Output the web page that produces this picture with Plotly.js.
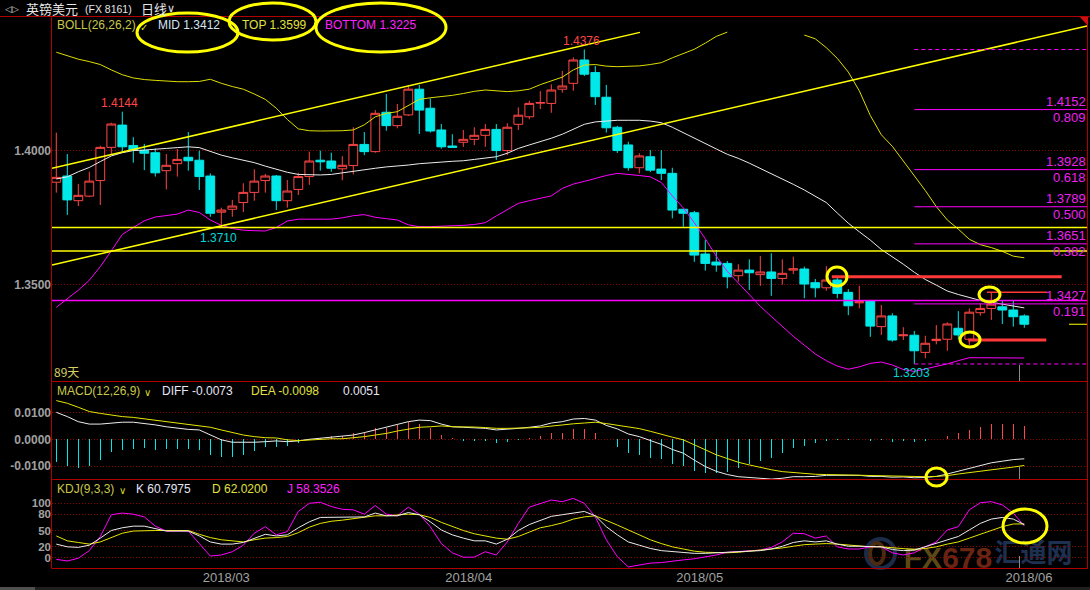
<!DOCTYPE html>
<html><head><meta charset="utf-8">
<script src="https://cdn.plot.ly/plotly-3.0.1.min.js"></script>
<style>html,body{margin:0;padding:0;background:#000;}#chart{width:1090px;height:590px;}</style>
</head><body><div id="chart"></div>
<script>
const dates = ['2018-02-08','2018-02-09','2018-02-12','2018-02-13','2018-02-14','2018-02-15','2018-02-16','2018-02-19','2018-02-20','2018-02-21','2018-02-22','2018-02-23','2018-02-26','2018-02-27','2018-02-28',
'2018-03-01','2018-03-02','2018-03-05','2018-03-06','2018-03-07','2018-03-08','2018-03-09','2018-03-12','2018-03-13','2018-03-14','2018-03-15','2018-03-16','2018-03-19','2018-03-20','2018-03-21','2018-03-22','2018-03-23','2018-03-26','2018-03-27','2018-03-28','2018-03-29','2018-03-30',
'2018-04-02','2018-04-03','2018-04-04','2018-04-05','2018-04-06','2018-04-09','2018-04-10','2018-04-11','2018-04-12','2018-04-13','2018-04-16','2018-04-17','2018-04-18','2018-04-19','2018-04-20','2018-04-23','2018-04-24','2018-04-25','2018-04-26','2018-04-27','2018-04-30',
'2018-05-01','2018-05-02','2018-05-03','2018-05-04','2018-05-07','2018-05-08','2018-05-09','2018-05-10','2018-05-11','2018-05-14','2018-05-15','2018-05-16','2018-05-17','2018-05-18','2018-05-21','2018-05-22','2018-05-23','2018-05-24','2018-05-25','2018-05-28','2018-05-29','2018-05-30','2018-05-31',
'2018-06-01','2018-06-04','2018-06-05','2018-06-06','2018-06-07','2018-06-08','2018-06-11','2018-06-12'];

const open = [1.3881,1.3904,1.3812,1.3829,1.3887,1.4011,1.4094,1.4018,1.3999,1.3991,1.3924,1.3950,1.3974,1.3963,1.3904,
1.3769,1.3780,1.3805,1.3843,1.3887,1.3904,1.3812,1.3854,1.3902,1.3963,1.3960,1.3931,1.3943,1.4022,1.3995,1.4142,1.4092,1.4132,1.4228,1.4157,1.4076,1.4016,
1.4030,1.4041,1.4056,1.4078,1.3999,1.4097,1.4125,1.4176,1.4175,1.4228,1.4250,1.4337,1.4290,1.4198,1.4086,1.4020,1.3935,1.3976,1.3930,1.3914,1.3780,
1.3767,1.3613,1.3583,1.3578,1.3532,1.3553,1.3536,1.3546,1.3522,1.3553,1.3557,1.3506,1.3487,1.3516,1.3470,1.3431,1.3438,1.3342,1.3382,1.3308,1.3310,1.3246,1.3290,
1.3295,1.3336,1.3295,1.3394,1.3410,1.3416,1.3404,1.3382];
const high = [1.4066,1.3986,1.3874,1.3920,1.4017,1.4103,1.4144,1.4049,1.4024,1.4007,1.3986,1.4005,1.4068,1.3999,1.3914,
1.3786,1.3815,1.3877,1.3929,1.3912,1.3908,1.3889,1.3916,1.3995,1.3999,1.3991,1.3978,1.4086,1.4068,1.4150,1.4210,1.4173,1.4244,1.4244,1.4194,1.4098,1.4060,
1.4076,1.4086,1.4098,1.4098,1.4101,1.4160,1.4185,1.4221,1.4246,1.4296,1.4347,1.4376,1.4315,1.4244,1.4091,1.4032,1.3989,1.4001,1.4001,1.3935,1.3782,
1.3774,1.3665,1.3628,1.3587,1.3575,1.3593,1.3606,1.3616,1.3593,1.3603,1.3566,1.3520,1.3568,1.3528,1.3482,1.3494,1.3440,1.3423,1.3392,1.3340,1.3326,1.3308,1.3348,
1.3358,1.3400,1.3410,1.3429,1.3470,1.3438,1.3438,1.3388];
const low = [1.3842,1.3759,1.3792,1.3825,1.3796,1.3986,1.3995,1.3954,1.3926,1.3902,1.3854,1.3902,1.3924,1.3852,1.3752,
1.3710,1.3752,1.3770,1.3812,1.3842,1.3777,1.3786,1.3833,1.3871,1.3924,1.3920,1.3888,1.3910,1.3982,1.3991,1.4073,1.4082,1.4128,1.4061,1.4066,1.4006,1.4011,
1.4013,1.4019,1.4013,1.3964,1.3982,1.4076,1.4116,1.4154,1.4140,1.4215,1.4222,1.4277,1.4169,1.4066,1.3990,1.3924,1.3914,1.3919,1.3889,1.3746,1.3715,
1.3584,1.3551,1.3547,1.3485,1.3510,1.3479,1.3494,1.3457,1.3499,1.3538,1.3448,1.3451,1.3476,1.3448,1.3385,1.3410,1.3304,1.3311,1.3286,1.3292,1.32028,1.3224,1.3276,
1.3252,1.3295,1.3274,1.3383,1.3367,1.3352,1.3342,1.3338];
const close = [1.3899,1.3815,1.3832,1.3885,1.4011,1.4098,1.4013,1.4001,1.3989,1.3916,1.3944,1.3966,1.3961,1.3902,1.3765,
1.3777,1.3792,1.3843,1.3885,1.3904,1.3812,1.3848,1.3902,1.3960,1.3957,1.3933,1.3944,1.4022,1.3995,1.4138,1.4092,1.4127,1.4228,1.4150,1.4072,1.4013,1.4011,
1.4041,1.4056,1.4078,1.3999,1.4086,1.4131,1.4175,1.4178,1.4225,1.4240,1.4337,1.4284,1.4200,1.4084,1.3999,1.3935,1.3979,1.3926,1.3914,1.3777,1.3765,
1.3609,1.3578,1.3572,1.3528,1.3553,1.3543,1.3546,1.3522,1.3541,1.3558,1.3501,1.3487,1.3516,1.3466,1.3420,1.3435,1.3344,1.3382,1.3292,1.3311,1.3252,1.3280,1.3295,
1.3352,1.3311,1.3396,1.3410,1.3426,1.3404,1.3379,1.3351];

const bollMid = [1.3893,1.3901,1.3920,1.3936,1.3958,1.3979,1.3991,1.3999,1.4001,1.4005,1.4007,1.4010,1.4013,1.4010,1.3997,
1.3982,1.3972,1.3964,1.3954,1.3941,1.3929,1.3918,1.3910,1.3908,1.3908,1.3910,1.3916,1.3923,1.3929,1.3933,1.3938,1.3941,1.3945,1.3950,1.3954,1.3956,1.3959,
1.3961,1.3966,1.3971,1.3976,1.3989,1.4007,1.4020,1.4032,1.4045,1.4060,1.4078,1.4097,1.4106,1.4110,1.4112,1.4112,1.4112,1.4109,1.4103,1.4086,1.4065,
1.4045,1.4024,1.4005,1.3985,1.3970,1.3952,1.3933,1.3914,1.3894,1.3873,1.3852,1.3830,1.3805,1.3766,1.3728,1.3696,1.3665,1.3630,1.3603,1.3575,1.3545,1.3518,1.3497,
1.3475,1.3462,1.3450,1.3440,1.3433,1.3426,1.3418,1.3412];
const bollTop = [1.4366,1.4352,1.4340,1.4331,1.4320,1.4300,1.4282,1.4270,1.4264,1.4261,1.4258,1.4256,1.4256,1.4257,1.4265,
1.4250,1.4238,1.4228,1.4210,1.4190,1.4157,1.4115,1.4080,1.4073,1.4072,1.4072,1.4073,1.4076,1.4095,1.4125,1.4138,1.4144,1.4168,1.4190,1.4196,1.4200,1.4205,
1.4212,1.4220,1.4225,1.4222,1.4219,1.4222,1.4228,1.4245,1.4260,1.4273,1.4300,1.4318,1.4320,1.4314,1.4312,1.4313,1.4315,1.4320,1.4327,1.4345,1.4362,
1.4377,1.4400,1.4425,1.4441,null,null,null,null,null,null,1.4430,1.4416,1.4383,1.4343,1.4292,1.4222,1.4130,1.4058,1.4015,1.3960,1.3905,1.3850,1.3790,
1.3740,1.3706,1.3668,1.3648,1.3637,1.3623,1.3605,1.3599];
const bollBot = [1.3414,1.3445,1.3478,1.3515,1.3566,1.3625,1.3686,1.3712,1.3737,1.3751,1.3756,1.3762,1.3777,1.3768,1.3740,
1.3720,1.3708,1.3702,1.3700,1.3699,1.3712,1.3736,1.3743,1.3743,1.3743,1.3743,1.3748,1.3756,1.3760,1.3750,1.3745,1.3740,1.3722,1.3715,1.3715,1.3716,1.3717,
1.3720,1.3723,1.3730,1.3755,1.3778,1.3802,1.3812,1.3821,1.3830,1.3858,1.3874,1.3884,1.3895,1.3906,1.3914,1.3911,1.3906,1.3901,1.3880,1.3830,1.3785,
1.3730,1.3670,1.3605,1.3548,1.3505,1.3460,1.3418,1.3380,1.3343,1.3306,1.3273,1.3240,1.3215,1.3195,1.3183,1.3192,1.3205,1.3210,1.3199,1.3182,1.3175,1.3184,1.3192,
1.3203,1.3215,1.3226,1.3226,1.3226,1.3226,1.3226,1.3225];

const macdDiff = [0.0101,0.0085,0.0066,0.0057,0.0057,0.0060,0.0064,0.0064,0.0060,0.0054,0.0047,0.0041,0.0037,0.0035,0.0016,
-0.0002,-0.0011,-0.0012,-0.0011,-0.0009,-0.0006,-0.0009,-0.0006,0.0000,0.0004,0.0006,0.0010,0.0016,0.0025,0.0035,0.0044,0.0054,0.0066,0.0072,0.0070,0.0057,0.0047,
0.0045,0.0044,0.0041,0.0035,0.0037,0.0041,0.0045,0.0050,0.0061,0.0066,0.0076,0.0078,0.0072,0.0052,0.0039,0.0020,0.0010,-0.0005,-0.0019,-0.0038,-0.0052,
-0.0078,-0.0102,-0.0120,-0.0132,-0.0140,-0.0143,-0.0146,-0.0149,-0.0146,-0.0140,-0.0140,-0.0139,-0.0135,-0.0134,-0.0135,-0.0135,-0.0139,-0.0139,-0.0142,-0.0141,-0.0144,-0.0143,-0.0139,
-0.0130,-0.0119,-0.0108,-0.0097,-0.0088,-0.0082,-0.0076,-0.0073];
const macdDea = [0.0145,0.0135,0.0120,0.0104,0.0097,0.0091,0.0085,0.0082,0.0077,0.0072,0.0066,0.0062,0.0057,0.0051,0.0045,
0.0035,0.0025,0.0016,0.0010,0.0006,0.0005,-0.0002,-0.0005,-0.0002,0.0001,0.0002,0.0002,0.0005,0.0010,0.0016,0.0022,0.0031,0.0037,0.0045,0.0047,0.0050,0.0047,
0.0047,0.0046,0.0044,0.0041,0.0041,0.0041,0.0043,0.0045,0.0050,0.0054,0.0058,0.0061,0.0064,0.0059,0.0052,0.0046,0.0040,0.0030,0.0018,0.0008,-0.0002,
-0.0020,-0.0040,-0.0058,-0.0072,-0.0086,-0.0096,-0.0106,-0.0114,-0.0121,-0.0125,-0.0128,-0.0131,-0.0132,-0.0133,-0.0134,-0.0135,-0.0136,-0.0137,-0.0137,-0.0138,-0.0139,-0.0140,-0.0139,
-0.0136,-0.0130,-0.0125,-0.0121,-0.0116,-0.0110,-0.0104,-0.0098];
const macdHist = [-0.0084,-0.0099,-0.0106,-0.0099,-0.0077,-0.0046,-0.0040,-0.0036,-0.0034,-0.0040,-0.0037,-0.0036,-0.0035,-0.0040,-0.0059,
-0.0067,-0.0067,-0.0059,-0.0044,-0.0027,-0.0030,-0.0025,-0.0012,-0.0003,0.0004,0.0012,0.0012,0.0022,0.0027,0.0041,0.0044,0.0054,0.0064,0.0057,0.0041,0.0016,0.0004,
-0.0005,-0.0006,-0.0006,-0.0012,-0.0009,-0.0002,0.0006,0.0014,0.0022,0.0025,0.0037,0.0039,0.0025,0.0001,-0.0027,-0.0052,-0.0059,-0.0071,-0.0075,-0.0092,-0.0099,
-0.0117,-0.0125,-0.0125,-0.0121,-0.0109,-0.0094,-0.0080,-0.0071,-0.0050,-0.0031,-0.0025,-0.0015,-0.0006,-0.0002,-0.0002,0.0000,-0.0006,-0.0004,-0.0010,-0.0006,-0.0011,-0.0006,0.0000,
0.0012,0.0022,0.0035,0.0047,0.0057,0.0057,0.0057,0.0051];

const kdjK = [25,20,19,23,36,50,55,58,58,54,49,49,49,40,29,
25,25,28,36,43,40,42,55,66,74,74,75,75,75,82,77,77,83,79,66,51,42,
36,31,31,25,34,50,61,69,76,79,82,85,77,57,42,29,23,17,13,11,9,
8,8,9,10,11,13,13,16,21,28,31,29,31,25,21,21,21,20,15,13,14,20,26,
33,39,51,63,71,74,71,60.7975];
const kdjD = [40,31,28,25,29,37,45,49,50,50,50,50,50,43,37,
33,31,29,33,36,37,39,46,56,63,67,69,72,74,77,77,78,80,79,74,65,57,
50,44,40,36,34,39,47,55,59,64,71,75,77,69,60,51,42,33,26,20,16,
12,10,9,9,10,12,13,15,18,21,24,25,26,25,23,21,20,20,18,16,15,17,20,
25,29,36,43,51,57,62,62.0200];
const kdjJ = [-3,-6,-1,13,39,79,82,80,75,58,49,49,49,26,3,
5,11,23,45,57,42,48,85,100,102,94,89,88,80,96,80,77,93,80,57,26,9,
1,1,11,5,29,63,93,100,106,103,109,100,75,33,2,-17,-13,-10,-9,-6,-4,
-2,1,5,10,11,13,14,19,29,45,44,36,40,20,16,16,20,20,9,5,9,20,29,
51,57,88,101,103,97,82,58.3526];

const fibRatios = [0.191, 0.382, 0.5, 0.618, 0.809];
const monthTickPos = [15.46, 37.49, 58.49, 88.43];
const monthTickText = ['2018/03','2018/04','2018/05','2018/06'];
const hLineLevels = [1.3712, 1.3624];      // yellow horizontal drawn lines
const magentaLevel = 1.3440;                // magenta horizontal drawn line
const channelUpper = [[-0.39, 1.3933], [53.06, 1.4440]];
const channelLower = [[-0.39, 1.3572], [93.70, 1.4464]];
const redLines = [[70.5, 91.4, 1.3528, 3], [84.6, 90.1, 1.3470, 1.5], [82.9, 90.0, 1.3292, 3]];

// ---------- layout helpers ----------
const W = 1090, H = 590;
const px = x => x / W, py = y => 1 - y / H;
const n = dates.length;
const xs = dates.map((d, i) => i);
const XR = [-0.391, 93.70];
const FONT = 'Liberation Sans, Arial, sans-serif';
const RED = '#ff4646', CYAN = '#00e8e8', YEL = '#e6e600', MAG = '#ff00ff', WHT = '#ececec';

function argExt(arr, a, b, cmp) { let k = a; for (let i = a; i < b; i++) if (cmp(arr[i], arr[k])) k = i; return k; }
const iHi = argExt(high, 0, n, (p, q) => p > q), iLo = argExt(low, 0, n, (p, q) => p < q);
const iHi1 = argExt(high, 0, 20, (p, q) => p > q), iLo1 = argExt(low, 0, 30, (p, q) => p < q);
const last = n - 1;

const traces = [
  {type: 'candlestick', x: xs, open, high, low, close, xaxis: 'x', yaxis: 'y', hoverinfo: 'skip',
   increasing: {line: {color: RED, width: 1}, fillcolor: '#000000'},
   decreasing: {line: {color: CYAN, width: 1}, fillcolor: CYAN}, whiskerwidth: 0},
  {type: 'scatter', mode: 'lines', x: xs, y: bollMid, line: {color: WHT, width: 1}, xaxis: 'x', yaxis: 'y', hoverinfo: 'skip'},
  {type: 'scatter', mode: 'lines', x: xs, y: bollTop, line: {color: '#dede00', width: 1}, xaxis: 'x', yaxis: 'y', hoverinfo: 'skip', connectgaps: false},
  {type: 'scatter', mode: 'lines', x: xs, y: bollBot, line: {color: MAG, width: 1}, xaxis: 'x', yaxis: 'y', hoverinfo: 'skip'},
  {type: 'bar', x: xs, y: macdHist, width: 0.12, marker: {color: macdHist.map(v => v >= 0 ? RED : CYAN), line: {width: 0}}, xaxis: 'x2', yaxis: 'y2', hoverinfo: 'skip'},
  {type: 'scatter', mode: 'lines', x: xs, y: macdDiff, line: {color: WHT, width: 1}, xaxis: 'x2', yaxis: 'y2', hoverinfo: 'skip'},
  {type: 'scatter', mode: 'lines', x: xs, y: macdDea, line: {color: YEL, width: 1}, xaxis: 'x2', yaxis: 'y2', hoverinfo: 'skip'},
  {type: 'scatter', mode: 'lines', x: xs, y: kdjJ, line: {color: MAG, width: 1}, xaxis: 'x3', yaxis: 'y3', hoverinfo: 'skip'},
  {type: 'scatter', mode: 'lines', x: xs, y: kdjD, line: {color: YEL, width: 1}, xaxis: 'x3', yaxis: 'y3', hoverinfo: 'skip'},
  {type: 'scatter', mode: 'lines', x: xs, y: kdjK, line: {color: WHT, width: 1}, xaxis: 'x3', yaxis: 'y3', hoverinfo: 'skip'}
];

const shapes = [];
const ann = [];
function pline(x0, y0, x1, y1, color, width, dash) {
  shapes.push({type: 'line', xref: 'paper', yref: 'paper', x0: px(x0), y0: py(y0), x1: px(x1), y1: py(y1), line: {color, width, dash: dash || 'solid'}});
}
function pell(x0, y0, x1, y1, color, width) {
  shapes.push({type: 'circle', xref: 'paper', yref: 'paper', x0: px(x0), y0: py(y0), x1: px(x1), y1: py(y1), line: {color, width}});
}
function txt(x, y, text, color, size, xanchor, family, extra) {
  ann.push(Object.assign({xref: 'paper', yref: 'paper', x: px(x), y: py(y), text, showarrow: false, xanchor: xanchor || 'left', yanchor: 'middle',
    font: {family: family || FONT, size: size || 12, color}}, extra || {}));
}
function wmark(x0, y0, x1, y1, text, color, size, family) {
  shapes.push({type: 'rect', xref: 'paper', yref: 'paper', x0: px(x0), y0: py(y0), x1: px(x1), y1: py(y1), layer: 'below',
    line: {width: 0}, fillcolor: 'rgba(0,0,0,0)', label: {text, textposition: 'middle center', font: {family: family || FONT, size, color}}});
}

// bottom strip
shapes.push({type: 'rect', xref: 'paper', yref: 'paper', x0: 0, x1: 1, y0: 0, y1: py(587), fillcolor: '#202020', line: {width: 0}});
shapes.push({type: 'rect', xref: 'paper', yref: 'paper', x0: 0, x1: px(35), y0: 0, y1: py(587), fillcolor: '#505050', line: {width: 0}});

// frame
const BORDER = '#b00000';
pline(0, 16.5, 1090, 16.5, BORDER, 1);
pline(51.5, 16.5, 51.5, 568.5, BORDER, 1);
pline(1087.5, 16.5, 1087.5, 568.5, BORDER, 1);
[381.5, 479.5, 568.5].forEach(y => pline(51.5, y, 1087.5, y, BORDER, 1));
shapes.push({type: 'path', xref: 'paper', yref: 'paper', path: `M ${px(1080)} ${py(17)} L ${px(1088)} ${py(17)} L ${px(1088)} ${py(26)} Z`, fillcolor: '#d01010', line: {width: 0}});

// watermark (below the traces)
shapes.push({type: 'circle', xref: 'paper', yref: 'paper', x0: px(866), y0: py(539), x1: px(895), y1: py(568), layer: 'below', line: {color: '#1c2c48', width: 4}});
shapes.push({type: 'circle', xref: 'paper', yref: 'paper', x0: px(870), y0: py(543), x1: px(884), y1: py(564), layer: 'below', line: {color: '#4a2a12', width: 4}});
wmark(906, 540, 990, 568, '<b><span style="color:#5c4816">FX</span><span style="color:#6a2414">678</span></b>', '#5c4816', 30);
wmark(992, 538, 1075, 570, '<b>汇通网</b>', '#1e3050', 26, 'Noto Sans CJK SC');

// drawn lines on price panel
hLineLevels.forEach(v => shapes.push({type: 'line', xref: 'paper', yref: 'y', x0: px(52), x1: px(1087), y0: v, y1: v, line: {color: '#ffff00', width: 1.5}}));
shapes.push({type: 'line', xref: 'paper', yref: 'y', x0: px(52), x1: px(1087), y0: magentaLevel, y1: magentaLevel, line: {color: MAG, width: 1.5}});
[channelUpper, channelLower].forEach(c => shapes.push({type: 'line', xref: 'x', yref: 'y', x0: c[0][0], y0: c[0][1], x1: c[1][0], y1: c[1][1], line: {color: '#ffff00', width: 1.5}}));
redLines.forEach(r => shapes.push({type: 'line', xref: 'x', yref: 'y', x0: r[0], x1: r[1], y0: r[2], y1: r[2], line: {color: '#ff3838', width: r[3]}}));

// fibonacci retracement
const fHi = high[iHi], fLo = low[iLo];
[0, 1].forEach(r => { const v = fLo + r * (fHi - fLo);
  shapes.push({type: 'line', xref: 'x', yref: 'y', x0: iLo, x1: XR[1], y0: v, y1: v, line: {color: MAG, width: 1, dash: '4px,3px'}}); });
fibRatios.forEach(r => { const v = fLo + r * (fHi - fLo);
  shapes.push({type: 'line', xref: 'x', yref: 'y', x0: iLo, x1: XR[1], y0: v, y1: v, line: {color: MAG, width: 1}});
  ann.push({xref: 'paper', yref: 'y', x: px(1087), y: v, yshift: 8, text: v.toFixed(4), showarrow: false, xanchor: 'right', yanchor: 'middle', borderpad: 0, font: {family: FONT, size: 13, color: '#f020f0'}});
  ann.push({xref: 'paper', yref: 'y', x: px(1087), y: v, yshift: -8, text: r.toFixed(3), showarrow: false, xanchor: 'right', yanchor: 'middle', borderpad: 0, font: {family: FONT, size: 13, color: '#f020f0'}});
});
// last price marker
shapes.push({type: 'line', xref: 'paper', yref: 'y', x0: px(1069), x1: px(1087), y0: close[last], y1: close[last], line: {color: '#ffff00', width: 1}});
// gray cursor marks
[[365, 381], [467, 479], [556, 568]].forEach(s => pline(1019.5, s[0], 1019.5, s[1], '#8a8a8a', 1));

// yellow highlight ellipses
const EY = '#ffff00';
pell(137, 13, 238, 52, EY, 3);
pell(229, 3, 316, 40, EY, 3);
pell(316, 3, 446, 52, EY, 3);
pell(827, 267, 847, 286, EY, 3);
pell(979, 287, 1000, 302, EY, 3);
pell(960, 332, 980, 347, EY, 3);
pell(926, 468, 947, 486, EY, 3);
pell(1003, 509, 1047, 543, EY, 3);

// header
const hp = {borderpad: 0};
txt(4, 9, '◁▷', '#c8c8c8', 9, 'left', 'DejaVu Sans', hp);
txt(25, 9, '英镑美元', '#e6e6e6', 13, 'left', 'Noto Sans CJK SC', hp);
txt(84, 9, '(FX 8161)', '#e6e6e6', 10.5, 'left', FONT, hp);
txt(140, 9, '日线', '#e6e6e6', 13, 'left', 'Noto Sans CJK SC', hp);
txt(166, 9, '∨', '#e6e6e6', 11, 'left', 'DejaVu Sans', hp);

// legends
txt(55, 25, 'BOLL(26,26,2)', '#c8c84a', 12);
txt(138, 27, '✓', '#d8d820', 10, 'left', 'DejaVu Sans');
txt(156, 25, 'MID ' + bollMid[last].toFixed(4), '#d4e6f6', 12);
txt(240, 25, 'TOP ' + bollTop[last].toFixed(4), '#e0e040', 12);
txt(323, 25, 'BOTTOM ' + bollBot[last].toFixed(4), '#ff22ff', 12);
txt(52, 371, '89天', '#d8d060', 12, 'left', 'Noto Sans CJK SC');
txt(55, 391, 'MACD(12,26,9)', '#c8c84a', 12);
txt(142, 392, '∨', '#d8d820', 10, 'left', 'DejaVu Sans');
txt(160, 391, 'DIFF ' + macdDiff[last].toFixed(4), '#e6e6f6', 12);
txt(249, 391, 'DEA ' + macdDea[last].toFixed(4), '#e0e040', 12);
txt(341, 391, macdHist[last].toFixed(4), '#e6e6f6', 12);
txt(55, 489, 'KDJ(9,3,3)', '#c8c84a', 12);
txt(117, 490, '∨', '#d8d820', 10, 'left', 'DejaVu Sans');
txt(134, 489, 'K ' + kdjK[last].toFixed(4), '#e6e6f6', 12);
txt(210, 489, 'D ' + kdjD[last].toFixed(4), '#e0e040', 12);
txt(285, 489, 'J ' + kdjJ[last].toFixed(4), '#ff22ff', 12);

// extreme labels
[[iHi1, high[iHi1], 8.5, RED], [iHi, high[iHi], 8.5, RED], [iLo1, low[iLo1], -9.5, '#00d8d8'], [iLo, low[iLo], -9, '#00d8d8']].forEach(a => {
  ann.push({xref: 'x', yref: 'y', x: a[0], y: a[1], yshift: a[2], xshift: -3, text: a[1].toFixed(4), showarrow: false, xanchor: 'center', yanchor: 'middle', font: {family: FONT, size: 12, color: a[3]}});
});

const tickFont = {family: FONT, size: 12, color: '#a0a0a0', weight: 'bold'};
const grid = {showgrid: true, gridcolor: '#8c0000', gridwidth: 1, griddash: '1px,2px', zeroline: false, ticks: '', showline: false, tickfont: tickFont, fixedrange: true};
const xbase = {range: XR, domain: [px(52), px(1087)], showgrid: false, zeroline: false, showline: false, ticks: '', fixedrange: true};

const layout = {
  width: W, height: H, margin: {l: 0, r: 0, t: 0, b: 0}, paper_bgcolor: '#000', plot_bgcolor: '#000', showlegend: false,
  boxgap: 0.2, boxgroupgap: 0, bargap: 0, dragmode: false,
  xaxis: Object.assign({}, xbase, {anchor: 'y', showticklabels: false, rangeslider: {visible: false}}),
  xaxis2: Object.assign({}, xbase, {anchor: 'y2', showticklabels: false}),
  xaxis3: Object.assign({}, xbase, {anchor: 'y3', tickvals: monthTickPos, ticktext: monthTickText, tickfont: {family: FONT, size: 13, color: '#a0a0a0'}}),
  yaxis: Object.assign({}, grid, {anchor: 'x', domain: [py(381), py(17)], range: [1.31392, 1.44974], tickvals: [1.35, 1.40], ticktext: ['1.3500', '1.4000']}),
  yaxis2: Object.assign({}, grid, {anchor: 'x2', domain: [py(479), py(381)], range: [-0.014869, 0.021835], tickvals: [-0.01, 0, 0.01], ticktext: ['-0.0100', '0.0000', '0.0100']}),
  yaxis3: Object.assign({}, grid, {anchor: 'x3', domain: [py(568), py(479)], range: [-18.93, 144.67], tickvals: [0, 20, 50, 80, 100], ticktext: ['0', '20', '50', '80', '100'], tickfont: Object.assign({}, tickFont, {size: 11.5})}),
  shapes, annotations: ann
};
Plotly.newPlot('chart', traces, layout, {staticPlot: true, displayModeBar: false});
</script></body></html>
